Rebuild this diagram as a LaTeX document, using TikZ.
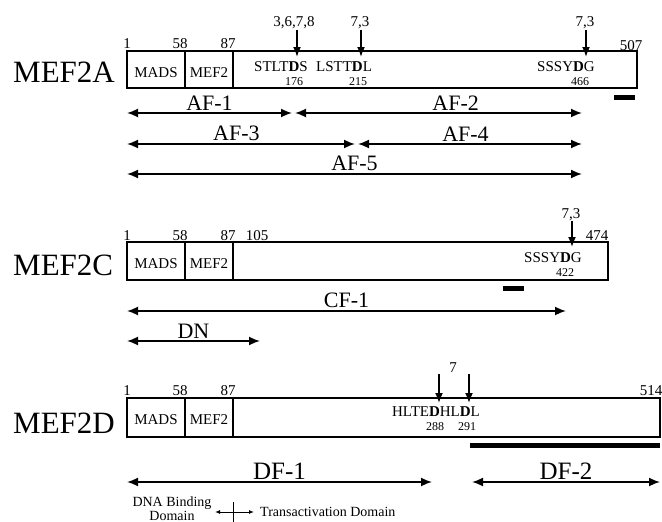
\documentclass[tikz,border=0pt]{standalone}
\usepackage{fontspec}
\setmainfont{Liberation Serif}
\usetikzlibrary{arrows.meta, positioning}

\tikzset{
  protbox/.style={draw, line width=1.7pt},
  divider/.style={line width=1.7pt},
  span/.style={{Latex[length=11pt,width=9pt]}-{Latex[length=11pt,width=9pt]}, line width=1.7pt},
  site/.style={-{Latex[length=10pt,width=8pt]}, line width=1.7pt},
  protname/.style={font=\fontsize{31}{31}\selectfont, inner sep=0pt, anchor=base west},
  domname/.style={font=\fontsize{15}{15}\selectfont, inner sep=0pt, anchor=base},
  posnum/.style={font=\fontsize{15}{15}\selectfont, inner sep=0pt, anchor=base},
  seqtxt/.style={font=\fontsize{15}{15}\selectfont, inner sep=0pt, anchor=base},
  resnum/.style={font=\fontsize{12}{12}\selectfont, inner sep=0pt, anchor=base},
  spanlbl/.style={font=\fontsize{22}{22}\selectfont, inner sep=0pt, above=2pt},
  legendtxt/.style={font=\fontsize{14}{14}\selectfont, inner sep=0pt, anchor=base},
  bar/.style={fill=black}
}

\begin{document}
\begin{tikzpicture}[x=1pt, y=-1pt]
    \useasboundingbox (0,0) rectangle (662,522);

    % ---- MEF2A ----
    \node[protname] (nameA) at (13,82) {MEF2A};
    \draw[protbox] (127,51) rectangle (637,88);
    \draw[divider] (185,51) -- (185,88);
    \draw[divider] (233,51) -- (233,88);
    \node[domname] (madsA) at (156,77) {MADS};
    \node[domname] (mefA) at (209,77) {MEF2};
    \node[posnum] (pA1) at (127,48) {1};
    \node[posnum] (pA58) at (180,48) {58};
    \node[posnum] (pA87) at (228,48) {87};
    \node[posnum] (pA507) at (631,50) {507};
    % sites
    \node[posnum] (sA1) at (294,27) {3,6,7,8};
    \coordinate (tA1) at (297,57);
    \draw[site] (sA1.south -| tA1) -- (tA1);
    \node[posnum] (sA2) at (360,27) {7,3};
    \coordinate (tA2) at (361,57);
    \draw[site] (sA2.south -| tA2) -- (tA2);
    \node[posnum] (sA3) at (585,27) {7,3};
    \coordinate (tA3) at (586,57);
    \draw[site] (sA3.south -| tA3) -- (tA3);
    \node[seqtxt] (qA1) at (281,71) {STLT\textbf{D}S};
    \node[resnum] (rA1) at (294,85) {176};
    \node[seqtxt] (qA2) at (344,71) {LSTT\textbf{D}L};
    \node[resnum] (rA2) at (358,85) {215};
    \node[seqtxt] (qA3) at (566,71) {SSSY\textbf{D}G};
    \node[resnum] (rA3) at (580,85) {466};
    \fill[bar] (614,95) rectangle (635,100);
    % fragments
    \coordinate (af1s) at (127,113); \coordinate (af1e) at (292,113);
    \coordinate (af2s) at (295,113); \coordinate (af2e) at (582,113);
    \coordinate (af3s) at (127,144); \coordinate (af3e) at (355,144);
    \coordinate (af4s) at (358,144); \coordinate (af4e) at (582,144);
    \coordinate (af5s) at (127,174); \coordinate (af5e) at (582,174);
    \draw[span] (af1s) -- node[spanlbl] (lAF1) {AF-1} (af1e);
    \draw[span] (af2s) -- node[spanlbl, pos=0.56] (lAF2) {AF-2} (af2e);
    \draw[span] (af3s) -- node[spanlbl, pos=0.48] (lAF3) {AF-3} (af3e);
    \draw[span] (af4s) -- node[spanlbl, pos=0.48] (lAF4) {AF-4} (af4e);
    \draw[span] (af5s) -- node[spanlbl] (lAF5) {AF-5} (af5e);

    % ---- MEF2C ----
    \node[protname] (nameC) at (13,275) {MEF2C};
    \draw[protbox] (127,242) rectangle (608,280);
    \draw[divider] (185,242) -- (185,280);
    \draw[divider] (233,242) -- (233,280);
    \node[domname] (madsC) at (156,268) {MADS};
    \node[domname] (mefC) at (209,268) {MEF2};
    \node[posnum] (pC1) at (127,240) {1};
    \node[posnum] (pC58) at (180,240) {58};
    \node[posnum] (pC87) at (228,240) {87};
    \node[posnum] (pC105) at (257,240) {105};
    \node[posnum] (pC474) at (597,240) {474};
    \node[posnum] (sC1) at (571,218) {7,3};
    \coordinate (tC1) at (572,247);
    \draw[site] (sC1.south -| tC1) -- (tC1);
    \node[seqtxt] (qC1) at (553,262) {SSSY\textbf{D}G};
    \node[resnum] (rC1) at (565,276) {422};
    \fill[bar] (503,286) rectangle (524,291);
    \coordinate (cf1s) at (127,311); \coordinate (cf1e) at (566,311);
    \coordinate (dns) at (127,341); \coordinate (dne) at (260,341);
    \draw[span] (cf1s) -- node[spanlbl] (lCF1) {CF-1} (cf1e);
    \draw[span] (dns) -- node[spanlbl] (lDN) {DN} (dne);

    % ---- MEF2D ----
    \node[protname] (nameD) at (13,433) {MEF2D};
    \draw[protbox] (127,398) rectangle (660,437);
    \draw[divider] (185,398) -- (185,437);
    \draw[divider] (233,398) -- (233,437);
    \node[domname] (madsD) at (156,424) {MADS};
    \node[domname] (mefD) at (209,424) {MEF2};
    \node[posnum] (pD1) at (127,395) {1};
    \node[posnum] (pD58) at (180,395) {58};
    \node[posnum] (pD87) at (228,395) {87};
    \node[posnum] (pD514) at (651,395) {514};
    \node[posnum] (sD1) at (453,372) {7};
    \coordinate (hD1) at (439,374); \coordinate (tD1) at (439,403);
    \coordinate (hD2) at (469,374); \coordinate (tD2) at (469,403);
    \draw[site] (hD1) -- (tD1);
    \draw[site] (hD2) -- (tD2);
    \node[seqtxt] (qD1) at (436,416) {HLTE\textbf{D}HL\textbf{D}L};
    \node[resnum] (rD1) at (435,430) {288};
    \node[resnum] (rD2) at (467,430) {291};
    \fill[bar] (470,443) rectangle (660,448);
    \coordinate (df1s) at (127,482); \coordinate (df1e) at (432,482);
    \coordinate (df2s) at (472,482); \coordinate (df2e) at (660,482);
    \draw[span] (df1s) -- node[spanlbl, font=\fontsize{25}{25}\selectfont] (lDF1) {DF-1} (df1e);
    \draw[span] (df2s) -- node[spanlbl, font=\fontsize{25}{25}\selectfont] (lDF2) {DF-2} (df2e);

    % ---- legend ----
    \node[legendtxt] (legDNA) at (172,506) {DNA Binding};
    \node[legendtxt] (legDom) at (172,520) {Domain};
    \node[legendtxt, anchor=base west] (legTA) at (260,516) {Transactivation Domain};
    \coordinate (legL) at (215,512); \coordinate (legR) at (254,512);
    \coordinate (tickT) at (233,502); \coordinate (tickB) at (233,526);
    \draw[{Latex[length=5pt,width=4pt]}-{Latex[length=5pt,width=4pt]}, line width=1pt] (legL) -- (legR);
    \draw[line width=1pt] (tickT) -- (tickB);
\end{tikzpicture}
\end{document}
